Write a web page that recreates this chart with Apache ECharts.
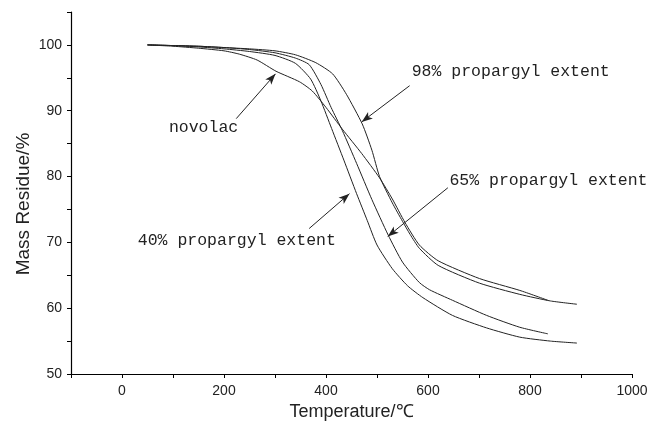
<!DOCTYPE html>
<html>
<head>
<meta charset="utf-8">
<script src="https://cdn.jsdelivr.net/npm/echarts@6/dist/echarts.min.js"></script>
<style>
  html, body { margin: 0; padding: 0; background: #fff; }
  #chart { width: 652px; height: 423px; }
</style>
</head>
<body>
<div id="chart"></div>
<script>
// TGA curves (temperature in C, mass residue in %)
const temp40 = [50, 100, 150, 200, 250, 300, 340, 370, 390, 411, 435, 460, 481, 500, 530, 560, 590, 648, 715, 780, 840, 892];
const mass40 = [100, 99.9, 99.7, 99.4, 99.0, 98.4, 97.2, 94.8, 91.5, 87.3, 82.5, 77.4, 73.3, 69.6, 66.0, 63.4, 61.6, 58.9, 57.0, 55.6, 55.0, 54.7];

const temp65 = [50, 100, 150, 200, 250, 300, 340, 367, 390, 410, 432, 460, 490, 522, 550, 583, 603, 648, 715, 780, 835];
const mass65 = [100, 99.9, 99.8, 99.6, 99.3, 98.8, 98.0, 97.0, 94.0, 90.5, 87.0, 82.0, 76.5, 71.1, 67.0, 63.9, 62.8, 61.2, 58.9, 57.1, 56.1];

const temp98 = [50, 100, 150, 200, 250, 300, 340, 380, 413, 440, 471, 490, 505, 530, 550, 565, 583, 620, 701, 780, 840, 892];
const mass98 = [100, 99.9, 99.8, 99.6, 99.4, 99.1, 98.5, 97.3, 95.6, 92.5, 88.0, 84.0, 80.0, 76.0, 73.2, 71.2, 69.1, 66.5, 63.8, 62.1, 61.1, 60.6];

const tempNov = [50, 100, 150, 200, 230, 265, 302, 348, 373, 400, 432, 470, 505, 530, 555, 583, 620, 701, 780, 835];
const massNov = [100, 99.8, 99.5, 99.1, 98.6, 97.7, 96.0, 94.4, 93.0, 90.5, 87.2, 83.5, 79.8, 76.6, 73.0, 69.6, 67.2, 64.5, 62.7, 61.2];

// annotations: label text, text anchor, arrow start, arrow tip (data coords)
const noteText = ['novolac', '98% propargyl extent', '65% propargyl extent', '40% propargyl extent'];
const noteAt = [[92, 87.5], [568, 96], [642, 79.4], [31, 70.3]];
const arrowFrom = [[224, 88.8], [564, 93.8], [639, 78.3], [367, 72.1]];
const arrowTo = [[301, 95.6], [470, 88.3], [521, 70.9], [446, 77.4]];

const ink = '#222';
const zip = (xs, ys) => xs.map((x, i) => [x, ys[i]]);

const chart = echarts.init(document.getElementById('chart'));

function curve(name, xs, ys) {
  return {
    name, type: 'line', data: zip(xs, ys),
    smooth: 0.2, symbol: 'none', silent: true,
    lineStyle: { color: ink, width: 1 }
  };
}

const series = [
  curve('40%', temp40, mass40),
  curve('65%', temp65, mass65),
  curve('98%', temp98, mass98),
  curve('novolac', tempNov, massNov)
];
series[0].markLine = {
  silent: true, symbol: ['none', 'arrow'], symbolSize: [6, 11],
  label: { show: false },
  lineStyle: { color: ink, width: 1, type: 'solid' },
  data: arrowFrom.map((f, i) => [{ coord: f }, { coord: arrowTo[i] }])
};

chart.setOption({
  animation: false,
  grid: { left: 71, right: 20, top: 12, bottom: 49, outerBoundsMode: 'none' },
  xAxis: {
    type: 'value', min: -100, max: 1000, interval: 100,
    name: 'Temperature/℃', nameLocation: 'middle', nameGap: 29,
    nameTextStyle: { color: ink, fontSize: 18, fontFamily: 'Liberation Sans' },
    axisLine: { onZero: false, lineStyle: { color: '#000', width: 1.2 } },
    axisTick: { length: 4, lineStyle: { color: '#000' } },
    splitLine: { show: false },
    axisLabel: {
      color: ink, fontSize: 14, fontFamily: 'Liberation Sans', margin: 10,
      formatter: v => (v % 200 === 0 ? String(v) : '')
    }
  },
  yAxis: {
    type: 'value', min: 50, max: 105, interval: 5,
    name: 'Mass Residue/%', nameLocation: 'middle', nameGap: 38, nameMoveOverlap: false,
    nameTextStyle: { color: ink, fontSize: 19, fontFamily: 'Liberation Sans', padding: [0, 22, 0, 0] },
    axisLine: { show: true, onZero: false, lineStyle: { color: '#000', width: 1.2 } },
    axisTick: { show: true, length: 4, lineStyle: { color: '#000' } },
    splitLine: { show: false },
    axisLabel: {
      color: ink, fontSize: 14, fontFamily: 'Liberation Sans', margin: 9,
      formatter: v => (v % 10 === 0 ? String(v) : '')
    }
  },
  series
});

// label texts placed through the chart's own scales
chart.setOption({
  graphic: noteText.map((t, i) => {
    const p = chart.convertToPixel({ gridIndex: 0 }, noteAt[i]);
    return {
      type: 'text', x: p[0], y: p[1], silent: true,
      style: {
        text: t, fill: ink, font: '16.5px "Liberation Mono"',
        verticalAlign: 'middle'
      }
    };
  })
});
</script>
</body>
</html>
